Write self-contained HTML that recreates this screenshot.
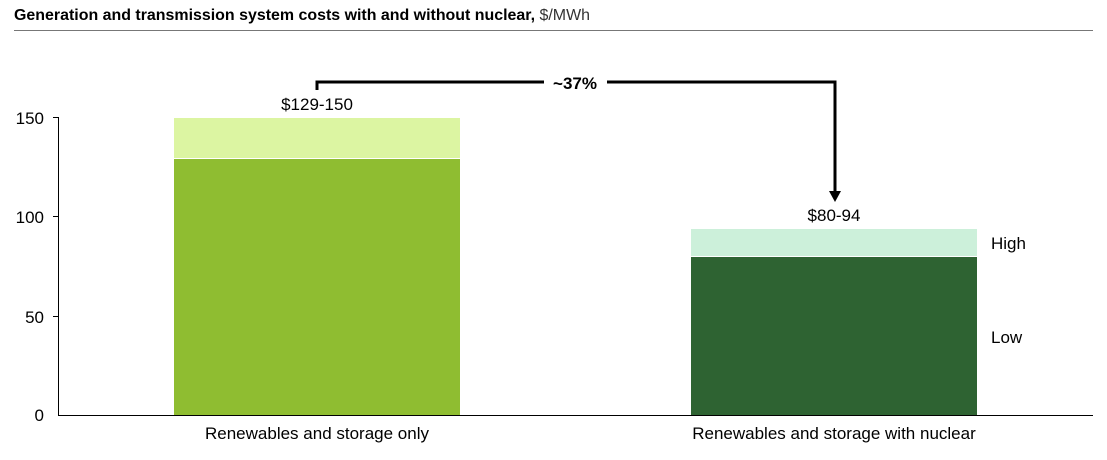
<!DOCTYPE html>
<html><head><meta charset="utf-8"><style>
body{margin:0;background:#fff;}
svg text{font-family:"Liberation Sans",Arial,sans-serif;}
</style></head><body>
<svg width="1107" height="455" viewBox="0 0 1107 455" xmlns="http://www.w3.org/2000/svg">
<text x="14" y="20" font-size="16" fill="#000" textLength="576" lengthAdjust="spacingAndGlyphs"><tspan font-weight="bold">Generation and transmission system costs with and without nuclear,</tspan> <tspan fill="#333">$/MWh</tspan></text>
<line x1="14" y1="30.5" x2="1093" y2="30.5" stroke="#777" stroke-width="1"/>
<line x1="58.5" y1="117" x2="58.5" y2="415" stroke="#000"/>
<line x1="58" y1="415.5" x2="1093" y2="415.5" stroke="#000"/>
<g stroke="#000"><line x1="53" y1="117.5" x2="58" y2="117.5"/><line x1="53" y1="216.5" x2="58" y2="216.5"/><line x1="53" y1="316.5" x2="58" y2="316.5"/></g>
<g font-size="17" text-anchor="end" fill="#000">
<text x="44" y="124">150</text><text x="44" y="223">100</text><text x="44" y="323">50</text><text x="44" y="421">0</text></g>
<rect x="174" y="118" width="286" height="40" fill="#dcf5a2"/>
<rect x="174" y="159" width="286" height="256" fill="#8fbd31"/>
<rect x="691" y="229" width="286" height="27" fill="#ccf0da"/>
<rect x="691" y="257" width="286" height="158" fill="#2e6332"/>
<g font-size="17" fill="#000" text-anchor="middle">
<text x="317" y="110">$129-150</text>
<text x="834" y="221">$80-94</text>
<text x="317" y="439">Renewables and storage only</text>
<text x="834" y="439">Renewables and storage with nuclear</text>
</g>
<text x="991" y="249" font-size="17">High</text>
<text x="991" y="343" font-size="17">Low</text>
<polyline points="317,90 317,82 544,82" fill="none" stroke="#000" stroke-width="3"/>
<polyline points="607,82 835,82 835,192" fill="none" stroke="#000" stroke-width="3"/>
<polygon points="829,191 841,191 835,202" fill="#000"/>
<text x="575" y="89" font-size="17" font-weight="bold" text-anchor="middle">~37%</text>
</svg>
</body></html>
